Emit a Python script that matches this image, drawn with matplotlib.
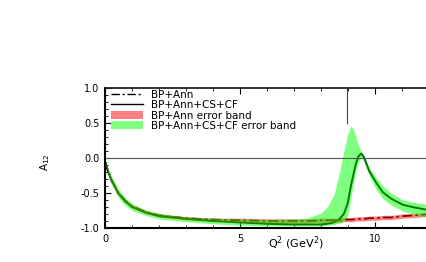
import numpy as np
import matplotlib

matplotlib.use("Agg")
import matplotlib.pyplot as plt
from matplotlib.lines import Line2D
from matplotlib.patches import Patch
from matplotlib.ticker import MultipleLocator, FormatStrFormatter

# Q^2 grid (GeV^2)
q2 = [0, 0.1, 0.25, 0.5, 0.75, 1, 1.5, 2, 3, 4, 5, 6, 7, 7.5, 8, 8.25, 8.5, 8.7, 8.86,
      9.0, 9.11, 9.2, 9.3, 9.4, 9.5, 9.6, 9.8, 10.05, 10.3, 10.6, 11.05, 11.5, 12.1]

bp_ann = [-0.05, -0.17, -0.32, -0.50, -0.61, -0.69, -0.77, -0.82, -0.86, -0.88, -0.89, -0.90,
          -0.90, -0.90, -0.89, -0.89, -0.89, -0.89, -0.88, -0.88, -0.88, -0.88, -0.87, -0.87,
          -0.87, -0.87, -0.86, -0.86, -0.85, -0.85, -0.83, -0.82, -0.80]
bp_ann_lo = [-0.06, -0.19, -0.34, -0.52, -0.63, -0.71, -0.79, -0.84, -0.88, -0.90, -0.92, -0.93,
             -0.93, -0.93, -0.92, -0.92, -0.92, -0.92, -0.91, -0.91, -0.91, -0.91, -0.90, -0.90,
             -0.90, -0.90, -0.89, -0.89, -0.88, -0.88, -0.86, -0.85, -0.83]
bp_ann_hi = [-0.04, -0.15, -0.30, -0.48, -0.59, -0.67, -0.75, -0.80, -0.84, -0.86, -0.86, -0.87,
             -0.87, -0.87, -0.86, -0.86, -0.86, -0.86, -0.85, -0.85, -0.85, -0.85, -0.84, -0.84,
             -0.84, -0.84, -0.83, -0.83, -0.82, -0.82, -0.80, -0.79, -0.77]

full = [-0.05, -0.18, -0.33, -0.51, -0.62, -0.70, -0.78, -0.83, -0.87, -0.90, -0.92, -0.94,
        -0.95, -0.95, -0.95, -0.94, -0.92, -0.87, -0.80, -0.65, -0.42, -0.26, -0.09, 0.02,
        0.06, 0.01, -0.19, -0.35, -0.49, -0.58, -0.67, -0.71, -0.75]
full_lo = [-0.07, -0.22, -0.38, -0.57, -0.68, -0.75, -0.82, -0.87, -0.91, -0.94, -0.96, -0.97,
           -0.97, -0.97, -0.97, -0.96, -0.95, -0.93, -0.91, -0.82, -0.60, -0.40, -0.20, -0.07,
           0.00, -0.04, -0.26, -0.45, -0.58, -0.67, -0.76, -0.81, -0.86]
full_hi = [-0.03, -0.14, -0.27, -0.45, -0.57, -0.65, -0.74, -0.79, -0.84, -0.86, -0.87, -0.88,
           -0.87, -0.86, -0.79, -0.70, -0.52, -0.20, 0.10, 0.33, 0.45, 0.42, 0.31, 0.18,
           0.09, 0.02, -0.14, -0.28, -0.40, -0.50, -0.60, -0.64, -0.67]

labels = ["BP+Ann", "BP+Ann+CS+CF", "BP+Ann error band", "BP+Ann+CS+CF error band"]

plt.rcParams["font.family"] = ["DejaVu Sans"]

fig = plt.figure(figsize=(4.27, 2.62), dpi=100)
ax = fig.add_axes([105 / 427, (262 - 228) / 262, 1.0 - 105 / 427 + 0.01, 140.5 / 262])

# lines sit under the translucent bands, so they pick up the band colour
ax.plot(q2, bp_ann, color="k", lw=1.2, ls=(0, (6, 2, 1.5, 2)), zorder=1)
ax.plot(q2, full, color="k", lw=1.4, zorder=1)
ax.fill_between(q2, bp_ann_lo, bp_ann_hi, color="#ff0000", alpha=0.5, lw=0, zorder=2)
ax.fill_between(q2, full_lo, full_hi, color="#00ff00", alpha=0.5, lw=0, zorder=3)
ax.axhline(0, color="#555555", lw=0.8, zorder=4)
# right edge of the legend frame
ax.axvline(8.96, ymin=0.75, ymax=1.0, color="#444444", lw=0.8)

ax.set_xlim(0, 12.1)
ax.set_ylim(-1.0, 1.0)
ax.xaxis.set_major_locator(MultipleLocator(5))
ax.xaxis.set_minor_locator(MultipleLocator(1))
ax.yaxis.set_major_locator(MultipleLocator(0.5))
ax.yaxis.set_minor_locator(MultipleLocator(0.1))
ax.yaxis.set_major_formatter(FormatStrFormatter("%.1f"))
ax.tick_params(which="both", direction="in", top=True, right=False, labelsize=7, pad=4)
ax.tick_params(which="major", length=4, width=0.8)
ax.tick_params(which="minor", length=2.5, width=0.6)
ax.spines["right"].set_visible(False)
ax.spines["top"].set_linewidth(1.3)
ax.spines["top"].set_color("#222222")
ax.spines["left"].set_linewidth(1.5)
ax.spines["bottom"].set_linewidth(1.5)
for s in ax.spines.values():
    s.set_zorder(6)

handles = [
    Line2D([], [], color="k", lw=1.0, ls=(0, (6, 2, 1.5, 2))),
    Line2D([], [], color="k", lw=1.0),
    Patch(facecolor="#ff8080", edgecolor="none"),
    Patch(facecolor="#80ff80", edgecolor="none"),
]
ax.legend(handles, labels, loc="upper left", bbox_to_anchor=(0.0, 1.03), frameon=False,
          fontsize=7.5, handlelength=3.0, handleheight=0.8, labelspacing=0.05,
          borderaxespad=0.2, handletextpad=0.8)

fig.text(296 / 427, 1 - 243 / 262, r"Q$^2$ (GeV$^2$)", ha="center", va="center", fontsize=8)
fig.text(45 / 427, 1 - 162 / 262, r"A$_{12}$", ha="center", va="center", fontsize=7.5, rotation=90)

fig.savefig("out.png", dpi=100)
